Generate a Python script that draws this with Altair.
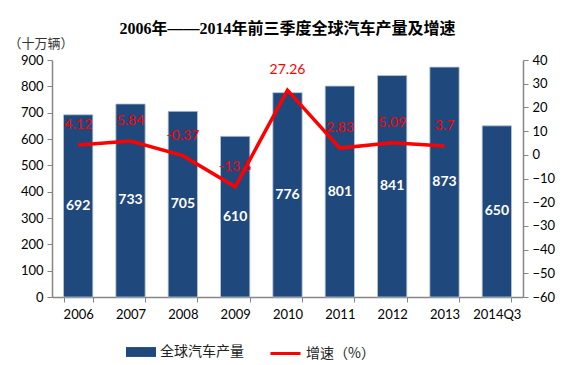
import altair as alt
import pandas as pd

years = ["2006", "2007", "2008", "2009", "2010", "2011", "2012", "2013", "2014Q3"]
output = [692, 733, 705, 610, 776, 801, 841, 873, 650]
growth = [4.12, 5.84, -0.37, -13.5, 27.26, 2.83, 5.09, 3.7, None]
growth_text = ["4.12", "5.84", "-0.37", "-13.5", "27.26", "2.83", "5.09", "3.7", ""]

df = pd.DataFrame({"year": years, "output": output, "growth": growth, "gtext": growth_text})
df["bar_s"] = "全球汽车产量"
df["line_s"] = "增速（%）"

BLUE = "#1F497D"
RED = "#FF0000"
AXC = "#868686"
LBL_FONT = "Lato"
CJK = "Noto Sans CJK SC"

xaxis = alt.Axis(labelAngle=0, tickBand="extent", domainColor=AXC, tickColor=AXC,
                 domainWidth=1.5, tickWidth=1, tickSize=5, labelPadding=6,
                 labelFont=LBL_FONT, labelFontSize=13, labelColor="#000",
                 labelOverlap=False, title=None)
xscale = alt.Scale(paddingInner=0.44, paddingOuter=0.22)

def xenc():
    return alt.X("year:N", sort=years, title=None, scale=xscale, axis=xaxis)

laxis = alt.Axis(values=list(range(0, 901, 100)), grid=False, domainColor=AXC,
                 tickColor=AXC, domainWidth=1.5, tickSize=5, labelPadding=4,
                 labelFont=LBL_FONT, labelFontSize=13, labelColor="#000",
                 labelOverlap=False,
                 title="（十万辆）", titleAngle=0, titleX=-44, titleY=-17,
                 titleAlign="left", titleBaseline="middle", titleFont=CJK,
                 titleFontSize=13, titleFontWeight="normal", titleColor="#333")
lscale = alt.Scale(domain=[0, 900], nice=False)

raxis = alt.Axis(orient="right", values=list(range(-60, 41, 10)), grid=False,
                 domainColor=AXC, tickColor=AXC, domainWidth=1.5, tickSize=5,
                 labelPadding=4, labelFont=LBL_FONT, labelFontSize=13,
                 labelColor="#000", labelOverlap=False, title=None)
rscale = alt.Scale(domain=[-60, 40], nice=False)

base = alt.Chart(df)

bars = base.mark_bar(stroke="#B8C4D4", strokeWidth=0.8).encode(
    x=xenc(),
    y=alt.Y("output:Q", scale=lscale, axis=laxis, title="（十万辆）"),
    fill=alt.Fill("bar_s:N", scale=alt.Scale(range=[BLUE]),
                  legend=alt.Legend(title=None, orient="none", legendX=74, legendY=277,
                                    symbolType="M-1,-0.33H1V0.33H-1Z", symbolSize=900,
                                    symbolStrokeWidth=0, labelFont=CJK, labelFontSize=14,
                                    labelColor="#222", padding=0, labelOffset=4)),
)

bar_labels = base.mark_text(color="white", fontWeight="bold", font=LBL_FONT, fontSize=14,
                            baseline="middle").transform_calculate(
    mid="datum.output / 2").encode(
    x=xenc(),
    y=alt.Y("mid:Q", scale=lscale, axis=laxis, title="（十万辆）"),
    text=alt.Text("output:Q"),
)

left = alt.layer(bars, bar_labels)

line = base.transform_filter("isValid(datum.growth)").mark_line(strokeWidth=3.5).encode(
    x=xenc(),
    y=alt.Y("growth:Q", scale=rscale, axis=raxis, title=None),
    stroke=alt.Stroke("line_s:N", scale=alt.Scale(range=[RED]),
                      legend=alt.Legend(title=None, orient="none", legendX=217, legendY=277,
                                        symbolType="stroke", symbolSize=900,
                                        symbolStrokeWidth=3, labelFont=CJK, labelFontSize=14,
                                        labelColor="#222", padding=0, labelOffset=4)),
)

line_labels = base.transform_filter("isValid(datum.growth)").mark_text(
    color=RED, font=LBL_FONT, fontSize=14, baseline="middle", dy=-20).encode(
    x=xenc(),
    y=alt.Y("growth:Q", scale=rscale, axis=raxis, title=None),
    text="gtext:N",
)

right = alt.layer(line, line_labels)

chart = alt.layer(left, right).resolve_scale(y="independent", fill="independent",
                                             stroke="independent").properties(
    width=471, height=237,
    autosize=alt.AutoSizeParams(type="none"),
    padding={"left": 44, "top": 52, "right": 34, "bottom": 64},
    title=alt.TitleParams("2006年——2014年前三季度全球汽车产量及增速",
                          font="Liberation Serif, 'Noto Sans CJK SC'", fontSize=16,
                          fontWeight="bold", color="#000", anchor="middle", offset=0),
).configure_view(stroke=None)

chart.save("out.html", embed_options={"renderer": "svg", "actions": False})
